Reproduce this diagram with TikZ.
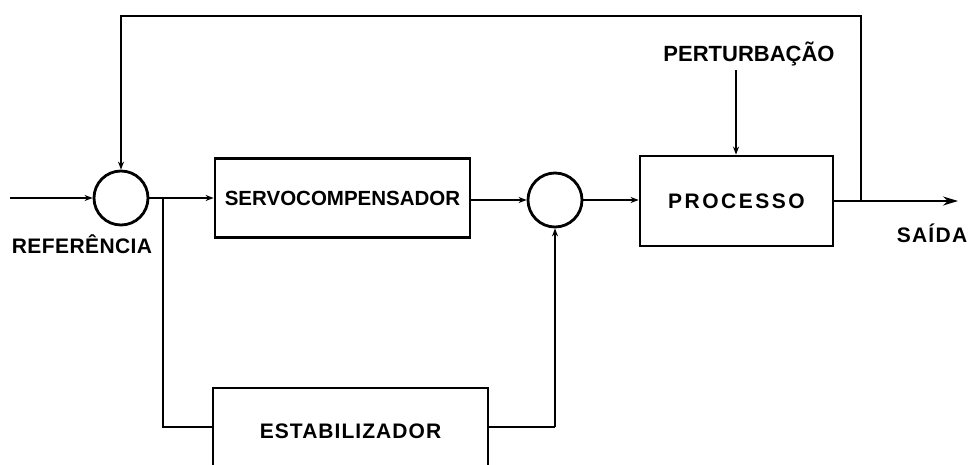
\documentclass[tikz,border=0pt]{standalone}
\usepackage{fontspec}
\setmainfont{Liberation Sans}
\usetikzlibrary{arrows.meta}
\begin{document}
\begin{tikzpicture}[x=1pt,y=-1pt,
  lbl/.style={font=\bfseries\fontsize{21}{24}\selectfont, inner sep=0pt, anchor=base},
  blk/.style={draw, line width=2.8pt, rectangle, inner sep=0pt, font=\bfseries\fontsize{21}{24}\selectfont},
  sumc/.style={draw, circle, line width=2.8pt, minimum size=54pt, inner sep=0pt},
  wire/.style={line width=1.8pt},
  arr/.style={wire, -{Stealth[length=8pt,width=6pt]}},
  bigarr/.style={wire, -{Stealth[length=15pt,width=9pt]}}]
\clip (0,0) rectangle (969,465);
\fill[white] (0,0) rectangle (969,465);
% nodes
\node[sumc] (c1) at (121,198) {};
\node[sumc] (c2) at (555,200) {};
\node[blk, minimum width=255pt, minimum height=79pt, font=\bfseries\fontsize{20.5}{24}\selectfont] (servo) at (342.5,198) {SERVOCOMPENSADOR};
\node[blk, minimum width=193pt, minimum height=90pt] (proc) at (736.5,201) {\addfontfeature{LetterSpace=12}PROCESSO};
\node[blk, minimum width=275pt, minimum height=86pt] (est) at (350.5,431) {\addfontfeature{LetterSpace=5}ESTABILIZADOR};
\coordinate (in) at (10,198);
\coordinate (j1) at (163,198);
\coordinate (j2) at (861,201);
\coordinate (out) at (958,201);
\coordinate (topL) at (121,16);
\coordinate (topR) at (861,16);
\coordinate (pert) at (736,70);
\coordinate (low) at (163,427);
\coordinate (lowR) at (555,427);
% labels
\node[lbl] (ref) at (82,253) {\addfontfeature{LetterSpace=2}REFERÊNCIA};
\node[lbl] (sai) at (932,242) {\addfontfeature{LetterSpace=6}SAÍDA};
\node[lbl, font=\bfseries\fontsize{22}{24}\selectfont] (per) at (749,62) {PERTURBAÇÃO};
% connectors
\draw[arr] (in) -- (c1.west);
\draw[arr] (c1.east) -- (servo.west |- c1.east);
\draw[wire] (j1) -- (low) -- (est.west |- low);
\draw[arr] (c2.west -| servo.east) -- (c2.west);
\draw[wire] (est.east |- lowR) -- (lowR);
\draw[arr] (lowR) -- (c2.south);
\draw[arr] (c2.east) -- (proc.west |- c2.east);
\draw[arr] (pert) -- (pert |- proc.north);
\draw[bigarr] (proc.east |- j2) -- (out);
\draw[arr] (j2) -- (topR) -- (topL) -- (c1.north);
\end{tikzpicture}
\end{document}
